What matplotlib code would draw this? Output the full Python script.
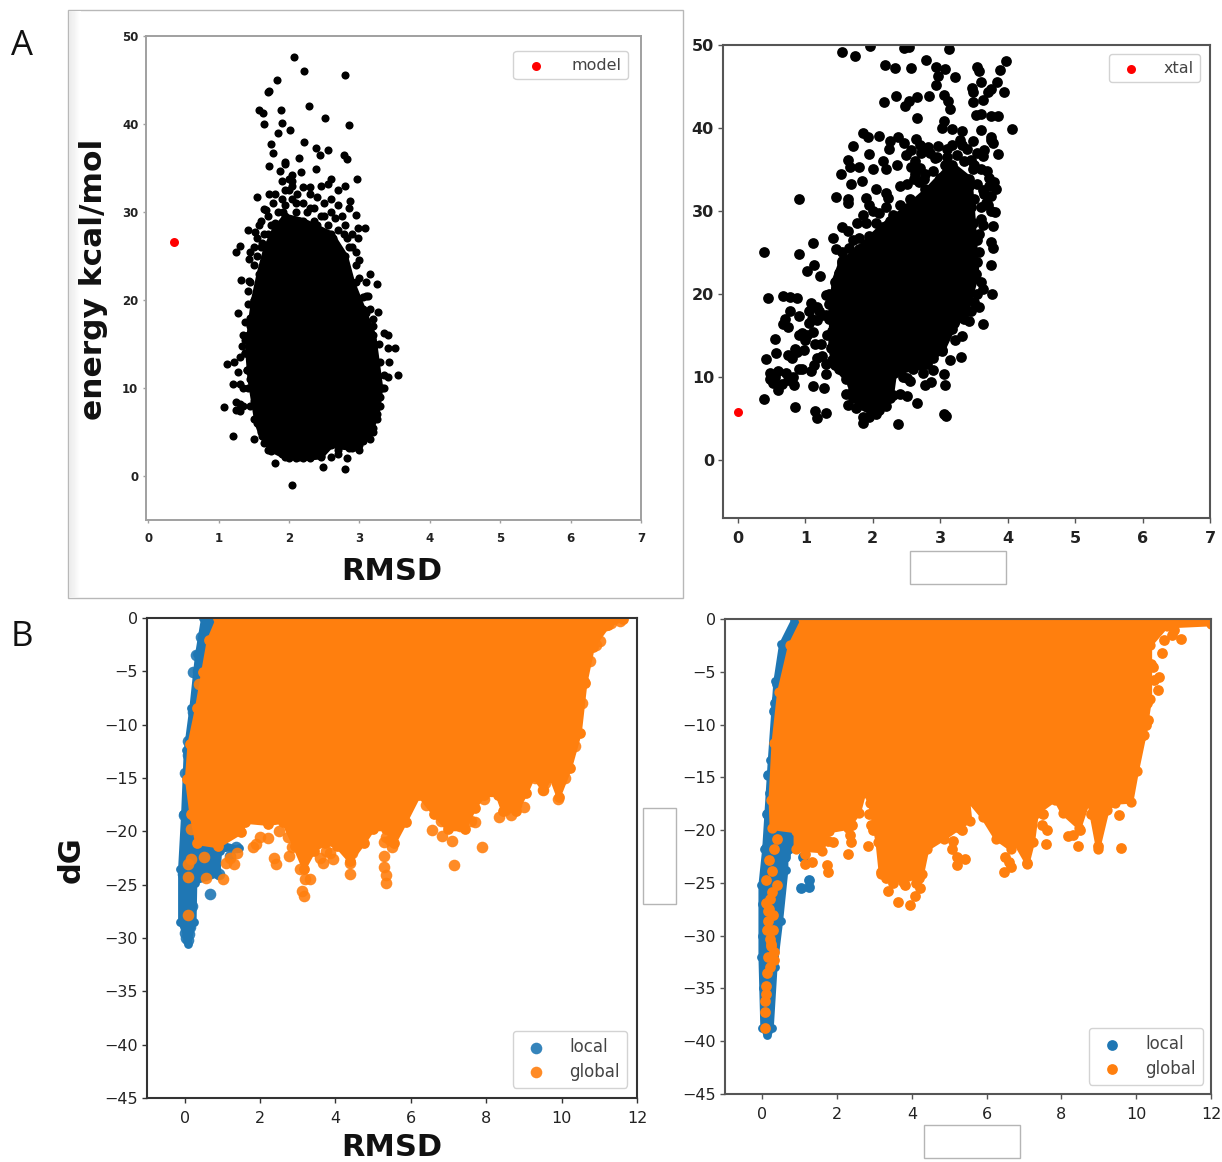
import numpy as np
import matplotlib.pyplot as plt
from matplotlib.patches import Rectangle

W = 1222
H = 1162

# panel A left, model: scattered points and outline of the solid core
model_x = [0.37]
model_y = [26.6]
a1_x = [2.07,2.22,2.80,1.83,1.70,1.72,2.29,1.89,1.57,1.63,2.51,1.64,1.90,2.86,1.85,2.02,2.21,1.74,1.77,2.39,2.55,2.44,2.78,2.82,2.14,1.95,1.71,2.17,2.38,2.97,
        1.08,1.2,1.12,1.22,1.28,1.2,1.3,1.35,1.25,1.3,1.3,1.25,1.35,1.5,1.25,1.3,1.3,1.33,1.38,1.35,1.28,1.38,1.42,1.42,1.32,1.43,1.43,1.45,1.5,1.42,1.52,1.55,1.55,
        3.55,3.42,3.5,3.4,3.4,3.35,3.27,3.2,3.1,3.4,3.32,3.3,3.25,3.2,3.2,3.15,3,2.95,2.88,2.8,2.82,2.7,2.75,2.48,2.05,1.8,2.0,2.15,2.3,1.7,
        3.25,3.15,3.0,3.05,3.1,2.95,2.95,2.98,3.08,2.98,2.82,2.78,2.95,2.85,2.87,2.7,2.8,2.6,2.5,2.4,2.3,2.2,2.3,2.55,2.6,2.45,2.45,2.35,2.25,2.1,1.95,2.05,1.9,2.0,2.05,1.88,1.95,1.72,1.8,1.65,1.7,1.75,1.65,1.6,2.15,2.35,2.55,2.7,2.65,
        1.45,1.5,1.55,1.62,1.7,1.8,1.85,1.95,2.05,2.1,2.2,2.3,2.4,2.5,2.6,2.75,2.8,2.9,2.95,3.0,3.1,3.15,3.2,3.28,3.3,3.35,3.35,3.3,3.25,3.2,3.05,2.9,2.7,2.6,2.45,2.3,2.1,1.9,1.75,1.65,1.6,1.5,1.45,1.42,1.4,1.38,1.42,1.45,1.5,
        1.6,1.68,1.58,1.78,1.9,2.0,1.92,2.12,2.05,2.9,2.85,2.7,2.45,2.62,2.38,1.48,1.38,1.4,3.12,3.18,3.22]
a1_y = [47.6,46.0,45.6,45.0,43.6,43.7,42.0,41.6,41.6,41.3,40.7,40.0,40.1,39.9,39.0,39.3,38.0,37.7,36.7,37.3,37.0,36.5,36.5,36.0,36.1,35.7,35.2,34.6,34.9,33.7,
        7.8,4.5,12.7,13,11.8,10.5,10.5,10,8.4,8.2,7.4,7.5,8,4.2,25.4,26.1,13.5,14.8,14,16,18.5,17.5,19.5,21,22.3,22.2,24.7,25.5,26,27.9,27.7,27,31.7,
        11.5,12.9,14.6,14.5,16,16.2,18.6,17.8,18.5,11.2,10,9,8,7.5,5.5,4.2,3,3.3,4,0.8,2,2.5,3.5,1,-1,1.5,2,2.2,2.2,3,
        21.8,23,24.6,20.3,22,22,25.5,27,28.2,28.2,27,27.5,29.7,30.5,31.3,32.5,32.9,31.5,31,31.7,32,32.8,32.8,33.2,33.8,33,29.5,30.5,30,31,32.5,33,33.5,33.8,34.2,34.7,35.5,32.1,32,30.3,29.5,28.5,27.5,26,29,29,28.5,28,29.3,
        22,24,25,26.5,27.5,28.8,30,30.8,31.5,30,31,30.5,28.5,29.5,30,29.5,28.5,26,24,22.5,20.5,19,17,15,13,11.5,10,8,6.5,5,4,3.2,3,2.2,2.3,2,2,2.5,2.8,3.8,5,6.5,8,10,12,14,16,18,20,
        29,30.2,28.5,31,31.5,32.5,30,32,33.5,27.5,26,30.8,27.5,27,26.5,15,15.5,12,20.5,15.5,12.5]
a1_core_x = [1.8,1.68,1.58,1.5,1.45,1.42,1.45,1.5,1.55,1.62,1.75,1.95,2.2,2.45,2.6,2.85,3.0,3.15,3.25,3.3,3.25,3.2,3.05,2.9,2.8,2.6,2.2,1.95]
a1_core_y = [28,26,23,20,17,14,11,8.5,6,4.5,3,2.2,2.0,2.2,3.5,3.2,3.5,5,7,10,13,16,19,22,25,27.5,29,29.5]

# panel A right, xtal
xtal_x = [0.0]
xtal_y = [5.8]
a2_x = [1.55,1.73,1.96,2.46,2.54,3.13,2.18,2.33,2.56,2.79,2.94,3.07,2.97,3.22,2.94,3.54,3.57,3.88,3.98,3.60,3.47,3.48,3.84,3.76,3.71,3.95,3.63,3.48,3.05,3.12,3.15,2.17,2.35,2.48,2.54,2.66,2.84,2.66,3.53,3.61,3.76,3.86,3.05,3.03,3.17,3.33,3.60,4.06,3.76,3.78,
        1.85,1.93,2.09,2.26,2.38,2.46,2.64,2.56,1.70,1.95,2.24,2.71,2.82,2.97,3.17,3.33,3.48,3.63,3.85,3.76,1.64,1.67,1.8,1.53,1.68,1.84,2.0,2.15,2.2,2.36,2.56,2.92,3.07,3.45,3.5,3.73,3.83,3.76,3.71,3.81,3.63,1.46,1.63,1.64,1.9,2.05,2.2,2.23,2.41,2.51,2.61,2.77,1.95,2.1,1.9,1.77,1.8,1.54,1.41,1.46,1.64,
        3.79,3.63,3.58,3.76,3.78,3.75,3.63,3.77,3.58,3.63,3.43,3.33,3.22,3.31,3.15,3.05,3.07,3.05,3.08,2.66,2.51,2.38,1.85,1.64,1.61,2.77,2.87,2.51,2.89,3.02,
        .9,.39,1.11,.9,1.03,1.13,1.22,.44,.67,.78,.88,1.31,1.08,1.18,.78,.9,1.06,1.18,.67,.75,.9,1.11,1.0,.55,1.23,.57,.85,.98,.8,.42,1.18,1.31,1.13,.9,1.08,1.31,.47,.6,.72,.47,.83,.75,.6,1.12,1.27,.39,.85,1.14,1.3,1.17,
        2.62,2.7,2.78,2.9,3.0,3.1,3.25,3.35,3.6,3.7,3.55,3.65,3.72,3.8,3.5,3.6,3.45,2.4,2.55,2.3,2.2,2.0,1.85,1.7,1.65,1.55,1.95,2.05,2.25,2.7,2.85,2.95,3.1,3.3,3.4,3.55,3.65,3.6,3.55,3.58,3.55,3.6,3.55,3.5,3.45,3.35,3.2,3.1,2.95,2.85,2.65,2.6,2.75,2.8,2.45,2.55,2.4,2.3,2.2,2.1,1.95,1.85,1.75,1.7,1.7,1.6,1.5,1.4,1.38,1.32,1.35,1.3,1.2,1.1,1.05,1.4,1.35,1.45,1.5,1.55,1.7,2.6,2.9,
        1.15,1.25,1.02,.95,.88,.95,.75,.82,.7,.55,.52,.65,1.25,1.35,1.4,2.5,2.62,2.68,2.76,2.88,3.02,3.12,3.3,3.42,3.48,3.68,3.75,3.4,3.5]
a2_y = [49.1,48.7,49.9,49.6,49.8,49.5,47.6,47.2,47.2,48.2,47.3,47.1,46.3,46.2,45.2,47.4,46.9,47.0,48.1,45.6,44.8,44.3,45.6,44.7,44.3,44.3,43.4,43.1,44.0,43.2,42.3,43.1,43.9,42.7,43.2,43.7,43.9,41.2,41.6,41.7,41.4,41.4,40.9,40,39.9,39.6,39.7,39.9,38.9,38.2,
        39.4,38.9,39,38.4,38.9,38.2,38.7,37.3,37.8,36.9,37.5,37,37.7,37.8,37.9,37.9,38.4,36.6,36.9,38.6,36.2,35.3,35.3,34.4,33.2,33.6,35.1,36,35.1,35.5,35.3,36.4,35.5,36.2,35.5,34,32.7,31.8,30.7,29.9,32.5,31.7,31.4,30.9,31.6,32.7,32.2,31.6,30.7,33.3,33.8,32.7,30.7,29.8,28.5,28.5,26.8,28.1,26.8,25.4,27.6,
        28.2,28.3,27.2,26.3,25.5,23.5,20.6,20,18.4,16.4,16.7,14.9,14.5,12.4,12,10.3,9,5.5,5.3,6.8,7.7,4.3,4.5,6.6,8,9,9.4,9.9,12.3,13.1,
        31.4,25,26.1,24.8,22.8,23.5,22.2,19.5,19.7,19.6,19.5,19.9,18.9,18.4,18,17.3,18,16.9,16.4,16,15.1,15.4,14.5,14.6,14,12.9,13.4,13.2,12.3,12.2,12.3,11.6,11.4,11,10.7,10.4,10.5,10.7,10.5,9.7,9,9.6,8.4,8.9,8.7,7.4,6.4,5.9,5.7,5,
        36,35.2,34.5,34.8,34,36.5,36.8,36,35,34.8,33.2,32,33,33.5,31.5,30.5,30.5,33,31.5,29.5,30.5,30,29.5,26.5,25.5,25,27,28.5,28.8,38,37,36.5,37.5,38.5,37.5,37,37.3,29,26.5,25,23.8,21.5,20,19,18,17,16.5,15.5,14.5,13.5,12.5,11,10.5,11.5,10,9.5,8,7.8,6.5,6,5.2,5.2,6.3,7.5,8.6,9.8,11,12,13.5,15,17,17.5,18,17,16.5,19,20,21.5,22.5,24,24.5,11.8,10.8,
        14,12.5,15,15.3,13,11,12.7,10,17,10,9.3,9.2,17.5,18.8,15.5,36.8,34.5,33.5,33.8,32,31,33,31.5,33,35,31,30,27.5,24]
a2_core_x = [1.39,1.41,1.44,1.54,1.80,2.15,2.51,2.82,3.17,3.43,3.48,3.53,3.38,3.17,3.02,2.71,2.31,2.26,2.05,1.80,1.69,1.44]
a2_core_y = [13.6,18,21.5,23.7,25.4,28.1,30.3,32.5,35.5,33.8,28.5,22.4,18,15.8,13.2,11.4,10.5,7.5,5.5,6.6,9.2,11.4]

# panel B left, outlines of the solid areas and the loose points
b1_orange_x = [0.89,0.64,0.49,0.33,0.13,0.06,0.18,0.33,0.89,1.5,1.6,2.21,2.62,2.92,3.17,3.43,3.73,4.04,4.39,4.75,5,5.35,5.56,5.86,6.22,6.62,6.98,7.43,7.69,7.94,8.3,8.45,8.8,9.06,9.26,9.51,9.72,9.92,10.22,10.48,10.63,10.83,11.24,11.64]
b1_orange_y = [0,-2.1,-5.1,-8.4,-11.8,-15.1,-18.4,-21.1,-21.4,-20.1,-19.1,-19.3,-19.1,-21.4,-23.5,-21.8,-21.1,-21.4,-22.8,-21.1,-19.8,-19.8,-21.1,-19.1,-16.6,-18.4,-19.8,-19.8,-17.8,-16.6,-16.6,-18.1,-18.1,-16.4,-14.8,-16.1,-14.9,-16.8,-14.1,-10.8,-6.1,-2.7,-0.7,-0.1]
b1_blue_x = [0.74,0.49,0.33,0.18,0.03,-0.04,-0.12,-0.12,0.10,0.26,0.28,0.89,0.94,1.45,0.33]
b1_blue_y = [0,0,-3.4,-8.4,-12.4,-18.4,-23.5,-28.5,-30.6,-28.5,-24.8,-24.1,-21.8,-21.6,-20.5]
b1_local_x = [.67,.02,.04,.1,.12,-.05,.2,.15,.43,.3,.22,.6,.45,.35,.1,.02,-.02,.22,.08,.8,.9,1.2,1.35]
b1_local_y = [-25.9,-29.5,-30,-30.2,-29.6,-24,-27,-29,-1.8,-3.5,-5.1,-.5,-3,-5,-11.5,-14.5,-18.5,-8.8,-12.8,-23.5,-24,-22.3,-21.5]
b1_global_x = [1.01,1.3,1.8,2.2,2.36,2.41,2.77,3.12,3.17,3.33,3.68,3.94,4.39,5.35,5.35,5.3,5.3,5.51,6.57,6.83,7.1,7.15,7.89,7.69,8.35,8.65,9.0,9.51,9.9,11.01,10.58,11.54,11.19,.08,.08,.1,.16,.52,.57,.16,.26,.37,
               5.35,5.3,5.45,4.39,4.45,3.2,3.05,2.85,2.75,3.6,3.85,3.75,1.2,1.1,1.4,2.0,1.9,2.5,6.4,6.8,7.3,7.6,7.95,8.5,8.8,9.3,9.55,10.1,10.35,10.55,10.6,10.75,10.9,11.3]
b1_global_y = [-24.5,-23.1,-21.5,-20.6,-22.5,-23.1,-22.3,-25.6,-26.1,-24.5,-23,-22.6,-24,-24.8,-24.1,-23.3,-22.3,-21.5,-19.9,-20.4,-20.9,-23.2,-21.5,-19.1,-18.7,-18.5,-17.7,-16.1,-17,-2.2,-5.9,-.3,-.7,-27.8,-23.1,-24.3,-22.6,-22.4,-24.4,-19.8,-18.6,-6.2,
               -20.5,-21,-20.8,-23,-22,-24.5,-23.5,-21.5,-20.5,-22.5,-22,-21.8,-22.5,-23,-22,-20.5,-21.2,-20,-17.5,-19,-19.5,-19,-17,-18,-17.5,-15,-15.5,-15,-12,-8,-6,-4,-2.5,-.5]

# panel B right
b2_orange_x = [1.09,.74,.45,.30,.22,.25,.89,.89,1.59,1.79,2.28,2.58,2.73,2.88,3.08,3.17,3.77,4.27,4.41,4.86,5.26,5.56,5.5,5.9,6.25,6.65,6.75,7.09,7.24,7.34,7.84,8.04,8.48,8.73,8.98,9.23,9.42,9.87,10.02,10.22,10.37,10.37,10.81,12,12]
b2_orange_y = [0,-2.5,-6.9,-11.7,-17.1,-19.8,-20.1,-21.8,-22,-20.1,-19.8,-18.4,-16.4,-17.4,-21.1,-24.2,-24.9,-24.2,-21.8,-20.8,-19.8,-19.1,-17.1,-18.8,-20.8,-21.8,-21.1,-23.2,-21.1,-18.4,-17.1,-18.4,-19.8,-17.1,-21.8,-18.1,-17.4,-17.3,-14.4,-11,-7.6,-2.5,-.7,-.5,0]
b2_blue_x = [.99,.84,.5,.35,.2,.05,-.05,-.05,0,.12,.25,.35,.5,.64,.64,.89,.89]
b2_blue_y = [0,0,-2.4,-5.9,-13.4,-21.8,-25.2,-32,-38.7,-39.4,-38.7,-33,-28.6,-23.8,-22.3,-21.8,-19]
b2_local_x = [1.04,1.24,1.24,1.09,.69,.6,.55,.45,.4,.33,.3,.4,.15,.2,.22,.12,.1,.05,.5,.6,.12,.95,.78,.72,.02,.04,.08,.02]
b2_local_y = [-25.5,-25.4,-24.7,-22.5,-2.4,-2.5,-5.4,-5.6,-6.2,-8,-8.7,-7.6,-14.8,-16.5,-17.7,-18.5,-21.7,-25,-24.5,-22.5,-39,-.3,-1.5,-3,-30,-35,-37,-27]
b2_global_x = [1.14,1.34,1.74,1.76,2.28,2.38,2.83,1.88,3.37,3.62,3.95,4.07,4.22,3.82,3.17,5.21,5.41,5.06,6.45,6.65,7.07,7.59,7.49,8.18,8.43,8.98,9.59,9.55,11.19,10.96,10.7,10.4,10.47,10.57,10.32,10.17,
               .07,.08,.09,.1,.15,.3,.2,.15,.1,.25,.4,.25,.3,.4,.12,.22,.28,.18,
               5.2,5.1,5.35,6.5,6.6,7.05,7.1,7.6,7.5,8.3,8.5,8.98,8.95,8.8,9.0,3.3,3.5,4.1,4.2,2.35,2.4,2.85,2.9,2.95,1.4,1.15,1.75,10.6,10.45,10.75,11,10.3,10.25,
               .2,.3,.22,.28,.15,.2,.12,.18,.1,.08]
b2_global_y = [-23.2,-23,-23.3,-24,-22.3,-21.1,-21.5,-21.1,-25.8,-26.8,-27.1,-26.2,-25.5,-25.2,-24,-23.3,-22.7,-21.8,-24,-23.5,-23.1,-21.3,-19.5,-20.6,-21.5,-21.5,-21.7,-18.6,-1.9,-1.5,-3.2,-4.3,-5.8,-6.7,-9.6,-11,
               -38.7,-36.2,-35.5,-34.8,-32,-32.3,-30.3,-28.6,-26.9,-25.9,-25.2,-23.9,-21.8,-20.8,-33.5,-31,-29.5,-27.5,
               -22.5,-21,-20,-22.5,-23,-22,-21,-20,-18.5,-20.5,-20,-20,-19,-18.5,-18,-24.5,-25,-25,-24.5,-20.5,-19.5,-18.5,-19.5,-20,-21.5,-22.3,-21,-5.5,-4.5,-2,-1,-8,-10,
               -33,-31.5,-30.8,-28,-27.7,-26.5,-29.5,-22.8,-24.7,-37.2]


def px_axes(left, top, right, bottom):
    return fig.add_axes([left/W, 1-bottom/H, (right-left)/W, (bottom-top)/H])


def style(ax, color, width, size, weight):
    for s in ax.spines.values():
        s.set_color(color)
        s.set_linewidth(width)
    ax.tick_params(colors='#222222', labelsize=size, color=color, width=1, length=3.5, pad=3)
    ax.tick_params(axis='x', pad=6)
    for t in ax.get_xticklabels() + ax.get_yticklabels():
        t.set_fontweight(weight)


def legend(ax, right, top, size, pad):
    leg = ax.legend(loc='upper right', bbox_to_anchor=(right/W, 1-top/H), bbox_transform=fig.transFigure,
                    borderaxespad=0, fontsize=size, handletextpad=pad, borderpad=0.42, labelspacing=0.4, framealpha=0.85)
    for t in leg.get_texts():
        t.set_color('#444444')


def white_box(left, top, right, bottom):
    fig.add_artist(Rectangle((left/W, 1-bottom/H), (right-left)/W, (bottom-top)/H, transform=fig.transFigure,
                             facecolor='white', edgecolor='#b5b5b5', linewidth=1, zorder=10))


def cloud(ax, xs, ys, color, stroke, size):
    # solid part of a cloud: the outline with a round thick edge, its corners as points
    ax.fill(xs, ys, facecolor=color, edgecolor=color, linewidth=stroke, joinstyle='round')
    ax.scatter(xs, ys, s=size, c=color, lw=0)


fig = plt.figure(figsize=(W/100, H/100), dpi=100)

# box around the first panel with its soft left edge
fig.add_artist(Rectangle((68/W, 1-598/H), 615/W, 588/H, transform=fig.transFigure,
                         facecolor='white', edgecolor='#b8b8b8', linewidth=1, zorder=0))
shade = fig.add_axes([69/W, 1-597/H, 12/W, 586/H], zorder=0)
shade.imshow(np.linspace(0.92, 1, 12).reshape(1, -1), cmap='gray', vmin=0, vmax=1, aspect='auto')
shade.axis('off')

# A left
ax1 = px_axes(146, 36, 641, 520)
ax1.patch.set_alpha(0)
cloud(ax1, a1_core_x, a1_core_y, 'black', 4, 34)
ax1.scatter(a1_x, a1_y, s=34, c='black', lw=0)
ax1.scatter(model_x, model_y, s=42, c='red', lw=0, label='model', zorder=3)
ax1.set_xlim(-0.03, 7)
ax1.set_ylim(-5, 50)
ax1.set_xticks(range(8))
ax1.set_yticks(range(0, 60, 10))
style(ax1, '#a0a0a0', 1.4, 8.5, 'bold')
ax1.tick_params(length=2.5)
legend(ax1, 628, 51, 11.5, 1.2)

# A right
ax2 = px_axes(723, 45, 1210, 518)
cloud(ax2, a2_core_x, a2_core_y, 'black', 5, 60)
ax2.scatter(a2_x, a2_y, s=60, c='black', lw=0)
ax2.scatter(xtal_x, xtal_y, s=42, c='red', lw=0, label='xtal', zorder=3)
ax2.set_xlim(-0.22, 7)
ax2.set_ylim(-7, 50)
ax2.set_xticks(range(8))
ax2.set_yticks(range(0, 60, 10))
style(ax2, '#555555', 1.5, 11.5, 'bold')
legend(ax2, 1200, 54, 11.5, 1.0)

# B left
ax3 = px_axes(147, 618, 637, 1098)
cloud(ax3, b1_blue_x, b1_blue_y, '#1f77b4', 3, 40)
ax3.scatter(b1_local_x, b1_local_y, s=70, c='#1f77b4', alpha=0.9, lw=0, label='local')
cloud(ax3, b1_orange_x, b1_orange_y, '#ff7f0e', 3, 60)
ax3.scatter(b1_global_x, b1_global_y, s=70, c='#ff7f0e', alpha=0.9, lw=0, label='global')
ax3.set_xlim(-1, 12)
ax3.set_ylim(-45, 0)
ax3.set_xticks(range(0, 14, 2))
ax3.set_yticks(range(-45, 5, 5))
style(ax3, '#333333', 1.5, 11.5, 'normal')
legend(ax3, 627, 1031, 12, 1.0)

# B right
ax4 = px_axes(725, 619, 1211, 1094)
cloud(ax4, b2_blue_x, b2_blue_y, '#1f77b4', 3, 40)
ax4.scatter(b2_local_x, b2_local_y, s=60, c='#1f77b4', lw=0, label='local')
cloud(ax4, b2_orange_x, b2_orange_y, '#ff7f0e', 3, 55)
ax4.scatter(b2_global_x, b2_global_y, s=60, c='#ff7f0e', lw=0, label='global')
ax4.set_xlim(-1, 12)
ax4.set_ylim(-45, 0)
ax4.set_xticks(range(0, 14, 2))
ax4.set_yticks(range(-45, 5, 5))
style(ax4, '#555555', 1.5, 11.5, 'normal')
legend(ax4, 1203, 1028, 12, 1.0)

# labels placed by hand as on the assembled figure
fig.text(392/W, 1-571/H, 'RMSD', fontsize=22, fontweight='bold', ha='center', va='center', color='#111111')
fig.text(93/W, 1-279/H, 'energy kcal/mol', fontsize=22.5, fontweight='bold', rotation=90, ha='center', va='center', color='#111111')
fig.text(71/W, 1-860/H, 'dG', fontsize=22, fontweight='bold', rotation=90, ha='center', va='center', color='#111111')
fig.text(392/W, 1-1148/H, 'RMSD', fontsize=22, fontweight='bold', ha='center', va='center', color='#111111')
fig.text(22/W, 1-46/H, 'A', fontsize=25, family='Open Sans', ha='center', va='center', color='#111111')
fig.text(22/W, 1-637/H, 'B', fontsize=25, family='Open Sans', ha='center', va='center', color='#111111')

white_box(910, 551, 1006, 584)
white_box(643, 808, 676, 904)
white_box(924, 1125, 1020, 1158)

plt.savefig('out.png', dpi=100)
